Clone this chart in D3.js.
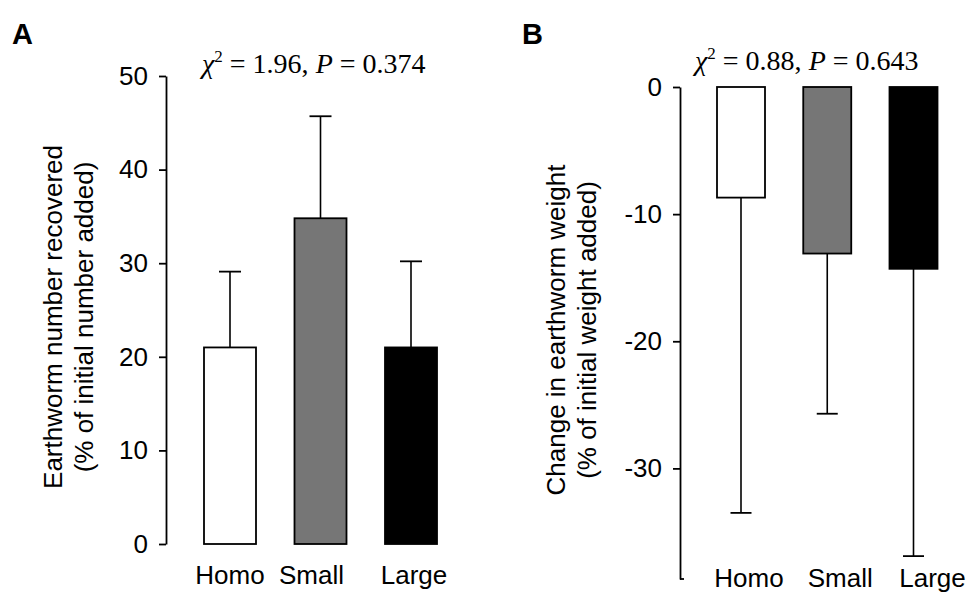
<!DOCTYPE html>
<html>
<head>
<meta charset="utf-8">
<script src="https://cdn.jsdelivr.net/npm/d3@7"></script>
<style>
body{margin:0;background:#fff;}
svg{display:block;}
text{font-family:"Liberation Sans",Arial,sans-serif;fill:#000;}
.stat{font-family:"Liberation Serif","Times New Roman",serif;}
</style>
</head>
<body>
<svg id="chart" width="975" height="600"></svg>
<script>
// data
var groups=["Homo","Small","Large"];
var fills=["#ffffff","#767676","#000000"];
var recovered=[21.0,34.8,21.0];
var recoveredErr=[29.1,45.7,30.2];
var weightChange=[-8.7,-13.1,-14.3];
var weightErr=[-33.5,-25.7,-36.9];
var ticksA=[0,10,20,30,40,50];
var ticksB=[0,-10,-20,-30];

var svg=d3.select("#chart");

function panel(opt){
	var g=svg.append("g");
	var x=d3.scalePoint().domain(groups).range(opt.xRange);
	var y=d3.scaleLinear().domain(opt.yDomain).range(opt.yRange);

	//y axis
	var yAxis=d3.axisLeft(y).tickValues(opt.ticks).tickSize(7).tickSizeOuter(0).tickPadding(11).tickFormat(d3.format("d"));
	var $ax=g.append("g").attr("transform","translate("+opt.axisX+",0)").call(yAxis);
	$ax.selectAll("path,line").attr("stroke","#000").attr("stroke-width",1.8);
	$ax.selectAll("text").style("font-size","26px").attr("fill","#000")
		.text(function(d){return d<0?"-"+Math.abs(d):d;});
	if(opt.stub){
		$ax.append("line").attr("x1",0).attr("x2",4)
			.attr("y1",opt.yRange[1]).attr("y2",opt.yRange[1])
			.attr("stroke","#000").attr("stroke-width",1.8);
	}

	//error bars, drawn before bars
	g.selectAll(".err").data(groups).enter().append("g").each(function(d,i){
		var cx=x(d);
		var $e=d3.select(this);
		$e.append("line").attr("x1",cx).attr("x2",cx)
			.attr("y1",y(opt.values[i])).attr("y2",y(opt.errs[i]))
			.attr("stroke","#000").attr("stroke-width",1.6);
		$e.append("line").attr("x1",cx-opt.cap/2).attr("x2",cx+opt.cap/2)
			.attr("y1",y(opt.errs[i])).attr("y2",y(opt.errs[i]))
			.attr("stroke","#000").attr("stroke-width",1.8);
	});

	//bars
	g.selectAll(".bar").data(groups).enter().append("rect")
		.attr("x",function(d){return x(d)-opt.barW/2;})
		.attr("width",opt.barW)
		.attr("y",function(d,i){return Math.min(y(0),y(opt.values[i]));})
		.attr("height",function(d,i){return Math.abs(y(opt.values[i])-y(0));})
		.attr("fill",function(d,i){return fills[i];})
		.attr("stroke","#000").attr("stroke-width",1.8);

	//category labels
	g.selectAll(".cat").data(groups).enter().append("text")
		.attr("x",function(d,i){return x(d)+opt.labelDx[i];})
		.attr("y",opt.labelY)
		.attr("text-anchor","middle")
		.style("font-size","26px")
		.text(function(d){return d;});

	//y title, two lines
	var $yt=g.append("text")
		.attr("transform","translate("+opt.titleX+","+opt.titleY+") rotate(-90)")
		.attr("text-anchor","middle")
		.style("font-size","26px");
	$yt.append("tspan").attr("x",0).attr("dy",0).text(opt.yTitle[0]);
	$yt.append("tspan").attr("x",0).attr("dy",opt.lineGap).text(opt.yTitle[1]);

	//statistic
	var $st=g.append("text").attr("class","stat")
		.attr("x",opt.statX).attr("y",opt.statY)
		.style("font-size","28px");
	$st.append("tspan").style("font-style","italic").text("χ");
	$st.append("tspan").attr("dy",-11).style("font-size","17px").text("2");
	$st.append("tspan").attr("dy",11).text(" = "+opt.chi+", ");
	$st.append("tspan").style("font-style","italic").text("P");
	$st.append("tspan").text(" = "+opt.p);

	//panel letter
	g.append("text").attr("x",opt.letterX).attr("y",44)
		.style("font-size","29px").style("font-weight","bold")
		.text(opt.letter);
}

panel({
	letter:"A",letterX:12,
	xRange:[230,411],barW:52,cap:22,
	yDomain:[0,50],yRange:[544,76],axisX:166,ticks:ticksA,
	values:recovered,errs:recoveredErr,
	labelY:584,labelDx:[0,-9,3],
	titleX:62,titleY:317,lineGap:31,
	yTitle:["Earthworm number recovered","(% of initial number added)"],
	statX:202,statY:73,chi:"1.96",p:"0.374"
});

panel({
	letter:"B",letterX:522,
	xRange:[741,913.5],barW:48,cap:21,
	yDomain:[0,-38.7],yRange:[87,579],axisX:680,ticks:ticksB,stub:true,
	values:weightChange,errs:weightErr,
	labelY:587,labelDx:[8,13,19],
	titleX:565,titleY:330,lineGap:31,
	yTitle:["Change in earthworm weight","(% of initial weight added)"],
	statX:695,statY:70,chi:"0.88",p:"0.643"
});
</script>
</body>
</html>
